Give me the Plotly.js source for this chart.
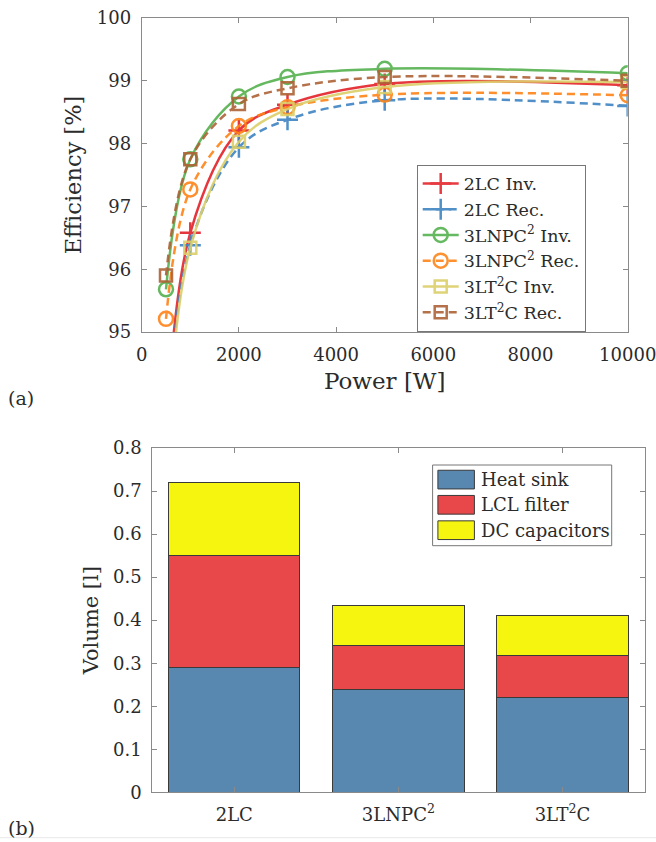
<!DOCTYPE html>
<html>
<head>
<meta charset="utf-8">
<script src="https://cdn.plot.ly/plotly-3.0.1.min.js"></script>
<style>html,body{margin:0;padding:0;background:#fff;}#chart{width:656px;height:842px;}</style>
</head>
<body>
<div id="chart"></div>
<script>
// ---- Data: (a) efficiency vs power ----
const power = [500, 1000, 2000, 3000, 5000, 10000];
const eff2LCInv    = [93.4, 96.58, 98.21, 98.62, 98.95, 98.93];
const eff2LCRec    = [93.2, 96.38, 97.94, 98.38, 98.69, 98.60];
const eff3LNPCInv  = [95.68, 97.75, 98.75, 99.06, 99.19, 99.12];
const eff3LNPCRec  = [95.21, 97.27, 98.28, 98.58, 98.78, 98.77];
const eff3LT2CInv  = [92.9, 96.34, 98.03, 98.55, 98.90, 98.98];
const eff3LT2CRec  = [95.90, 97.75, 98.63, 98.88, 99.06, 99.00];
const seriesNames  = ['2LC Inv.', '2LC Rec.', '3LNPC<sup>2</sup> Inv.', '3LNPC<sup>2</sup> Rec.', '3LT<sup>2</sup>C Inv.', '3LT<sup>2</sup>C Rec.'];
const powerTicks   = [0, 2000, 4000, 6000, 8000, 10000];
const powerTickText= ['0', '2000', '4000', '6000', '8000', '10000'];
const effTicks     = [95, 96, 97, 98, 99, 100];

// ---- Data: (b) volume breakdown ----
const topologies   = ['2LC', '3LNPC<sup>2</sup>', '3LT<sup>2</sup>C'];
const heatSink     = [0.29, 0.24, 0.22];
const lclFilter    = [0.26, 0.10, 0.098];
const dcCapacitors = [0.17, 0.094, 0.093];
const volumeNames  = ['Heat sink', 'LCL filter', 'DC capacitors'];
const volTicks     = [0, 0.1, 0.2, 0.3, 0.4, 0.5, 0.6, 0.7, 0.8];
const volTickText  = ['0', '0.1', '0.2', '0.3', '0.4', '0.5', '0.6', '0.7', '0.8'];

const FONT = 'DejaVu Serif';
const TXT = '#2b2b2b';
const AX = '#8a8a8a';
const W = 656, H = 842;
const px = v => v / W;          // pixel -> paper x
const py = v => 1 - v / H;      // pixel -> paper y

const effSeries = [eff2LCInv, eff2LCRec, eff3LNPCInv, eff3LNPCRec, eff3LT2CInv, eff3LT2CRec];
const colors  = ['#e4262c', '#3f84c2', '#55b24f', '#ff8519', '#dccf6a', '#ad6236'];
const symbols = ['cross-thin-open', 'cross-thin-open', 'circle-open', 'circle-open', 'square-open', 'square-open'];
const msizes  = [15, 15, 14, 14, 12, 12];
const dashes  = ['solid', '8px,5px', 'solid', '8px,5px', 'solid', '8px,5px'];

const traces = effSeries.map((ys, i) => ({
  type: 'scatter', mode: 'lines+markers',
  x: power, y: ys, name: seriesNames[i],
  xaxis: 'x', yaxis: 'y', legend: 'legend',
  line: {color: colors[i], width: 2.5, dash: dashes[i], shape: 'spline', smoothing: 1},
  marker: {symbol: symbols[i], size: msizes[i], color: colors[i], line: {color: colors[i], width: 2.5}},
  opacity: 0.9
}));

const barColors = ['#5887b0', '#e8484a', '#f5f510'];
const barEdge = '#3a3a3a';
[heatSink, lclFilter, dcCapacitors].forEach((vals, i) => {
  traces.push({
    type: 'bar', x: topologies, y: vals, name: volumeNames[i],
    xaxis: 'x2', yaxis: 'y2', showlegend: false,
    marker: {color: barColors[i], line: {color: barEdge, width: 1}}
  });
});

const axisCommon = {
  showline: true, linecolor: AX, linewidth: 1, mirror: 'ticks',
  ticks: 'inside', ticklen: 5, tickcolor: AX, tickwidth: 1,
  showgrid: false, zeroline: false, automargin: false,
  ticklabeloverflow: 'allow',
  tickfont: {family: FONT, size: 18, color: TXT}, ticklabelstandoff: 6
};

// Custom legend for the bar chart (larger MATLAB-style patches)
const leg2 = {left: 432.6, right: 611.7, top: 465, bottom: 545.7, patchL: 437.9, patchR: 474.4, rowY: [479.6, 504.8, 530.2], patchH: 18.7, textL: 478.5};
const shapes = [
  {type: 'line', xref: 'paper', yref: 'paper', x0: 0, x1: 1, y0: py(837.7), y1: py(837.7), line: {color: '#e8e8e8', width: 1}},
  {type: 'rect', xref: 'paper', yref: 'paper', x0: px(leg2.left), x1: px(leg2.right), y0: py(leg2.bottom), y1: py(leg2.top), line: {color: '#777', width: 1}, fillcolor: '#fff', layer: 'above'}
];
const annotations = [
  {text: '(a)', xref: 'paper', yref: 'paper', x: px(6), y: py(398), xanchor: 'left', yanchor: 'middle', showarrow: false, font: {family: FONT, size: 19, color: TXT}},
  {text: '(b)', xref: 'paper', yref: 'paper', x: px(6), y: py(828), xanchor: 'left', yanchor: 'middle', showarrow: false, font: {family: FONT, size: 19, color: TXT}}
];
volumeNames.forEach((nm, i) => {
  const cy = leg2.rowY[i];
  shapes.push({type: 'rect', xref: 'paper', yref: 'paper', layer: 'above',
    x0: px(leg2.patchL), x1: px(leg2.patchR), y0: py(cy + leg2.patchH / 2), y1: py(cy - leg2.patchH / 2),
    fillcolor: barColors[i], line: {color: barEdge, width: 1}});
  annotations.push({text: nm, xref: 'paper', yref: 'paper', x: px(leg2.textL), y: py(cy), xanchor: 'left', yanchor: 'middle',
    showarrow: false, font: {family: FONT, size: 18, color: TXT}});
});

const layout = {
  width: W, height: H,
  margin: {l: 0, r: 0, t: 0, b: 0},
  paper_bgcolor: '#fff', plot_bgcolor: '#fff',
  showlegend: true,
  barmode: 'stack', bargap: 0.2,
  font: {family: FONT, color: TXT},
  xaxis: Object.assign({}, axisCommon, {
    domain: [px(141.7), px(627.7)], anchor: 'y',
    range: [0, 10000], tickvals: powerTicks, ticktext: powerTickText,
    title: {text: 'Power [W]', font: {family: FONT, size: 23, color: TXT}, standoff: 9}
  }),
  yaxis: Object.assign({}, axisCommon, {
    domain: [py(332), py(18)], anchor: 'x',
    range: [95, 100], tickvals: effTicks,
    title: {text: 'Efficiency [%]', font: {family: FONT, size: 22.5, color: TXT}, standoff: 8}
  }),
  xaxis2: Object.assign({}, axisCommon, {
    domain: [px(152.2), px(644.6)], anchor: 'y2',
    type: 'category', range: [-0.5, 2.5]
  }),
  yaxis2: Object.assign({}, axisCommon, {
    domain: [py(792.3), py(448)], anchor: 'x2',
    range: [0, 0.8], tickvals: volTicks, ticktext: volTickText,
    title: {text: 'Volume [l]', font: {family: FONT, size: 21, color: TXT}, standoff: 8}
  }),
  legend: {
    x: px(416.7), y: py(164.5), xanchor: 'left', yanchor: 'top',
    bgcolor: '#fff', bordercolor: '#777', borderwidth: 1, traceorder: 'normal',
    font: {family: FONT, size: 17.5, color: TXT}, tracegroupgap: 0, itemwidth: 36
  },
  annotations: annotations,
  shapes: shapes
};

Plotly.newPlot('chart', traces, layout, {staticPlot: true, displayModeBar: false});
</script>
</body>
</html>
